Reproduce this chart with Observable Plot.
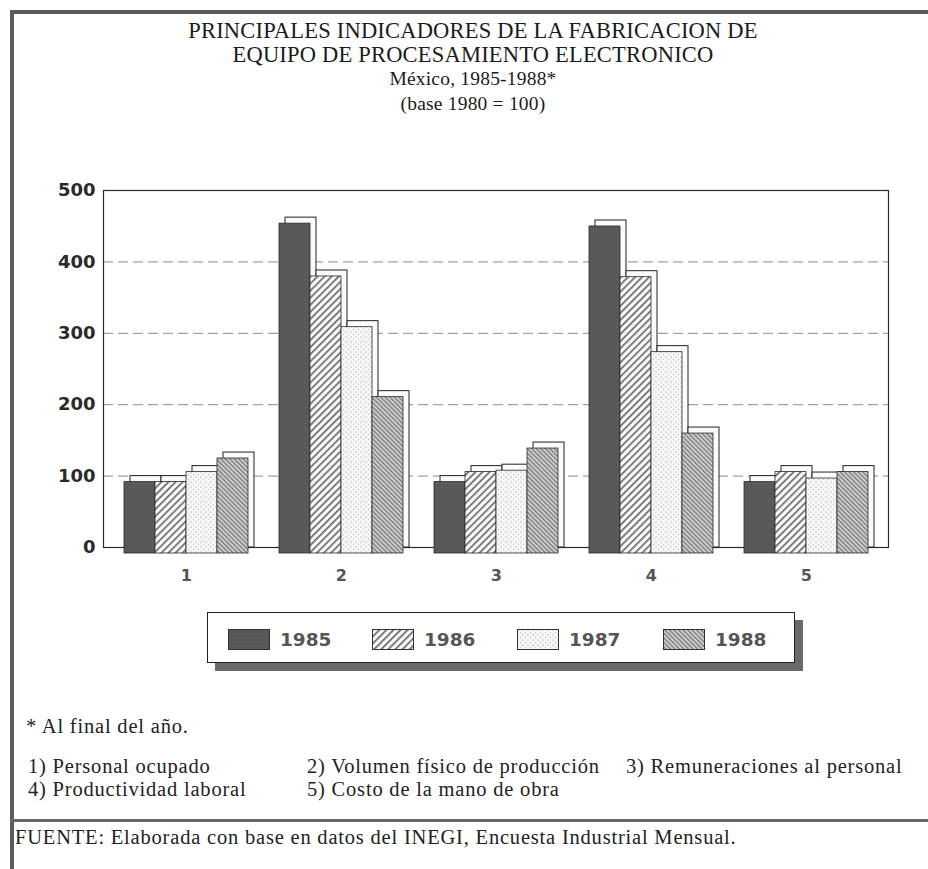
<!DOCTYPE html>
<html><head><meta charset="utf-8">
<script src="https://cdn.jsdelivr.net/npm/d3@7"></script>
<script src="https://cdn.jsdelivr.net/npm/@observablehq/plot@0.6"></script>
<style>
body{margin:0;background:#fff;}
#page{position:relative;width:928px;height:869px;overflow:hidden;background:#fff;}
.bt{position:absolute;left:10px;top:10px;width:918px;height:4px;background:#5c5c5c;}
.bl{position:absolute;left:10px;top:10px;width:4px;height:859px;background:#5c5c5c;}
.title{position:absolute;left:0;top:19px;width:946px;text-align:center;font-family:"Liberation Serif",serif;color:#1b1b1b;line-height:23.5px;font-size:22.5px;letter-spacing:0.2px;}
.title .s{font-size:19.5px;}
#chart{position:absolute;left:0;top:120px;}
.legend{position:absolute;left:207px;top:612px;width:586px;height:49px;border:1.5px solid #222;background:#fff;box-shadow:8px 8px 0 #6a6a6a;}
.item{position:absolute;top:16px;height:21px;font-family:"DejaVu Sans",sans-serif;font-weight:bold;font-size:18.5px;color:#555;line-height:21px;}
.item svg{position:absolute;left:0;top:0;}
.item span{position:absolute;left:52px;top:0;}
.fn{position:absolute;font-family:"Liberation Serif",serif;font-size:20.5px;line-height:21px;letter-spacing:0.8px;color:#222;white-space:nowrap;}
.sep{position:absolute;left:10px;top:819px;width:918px;height:3px;background:#666;}
</style></head>
<body>
<div id="page">
  <div class="bt"></div><div class="bl"></div>
  <div class="title">PRINCIPALES INDICADORES DE LA FABRICACION DE<br>EQUIPO DE PROCESAMIENTO ELECTRONICO<br><span class="s">México, 1985-1988*</span><br><span class="s">(base 1980 = 100)</span></div>
  <div id="chart"></div>
  <div class="legend" id="legend"></div>
  <div id="notes"></div>
  <div class="sep"></div>
</div>
<script>
const categories = ["1", "2", "3", "4", "5"];
const years = ["1985", "1986", "1987", "1988"];
const v1985 = [100, 462, 100, 458, 100];
const v1986 = [100, 388, 114, 387, 114];
const v1987 = [114, 317, 116, 282, 105];
const v1988 = [133, 219, 147, 168, 114];
const yTicks = [0, 100, 200, 300, 400, 500];
const gridValues = [100, 200, 300, 400];
const footnote = "* Al final del año.";
const descriptions = ["1) Personal ocupado", "2) Volumen físico de producción", "3) Remuneraciones al personal", "4) Productividad laboral", "5) Costo de la mano de obra"];
const source = "FUENTE: Elaborada con base en datos del INEGI, Encuesta Industrial Mensual.";

const series = {"1985": v1985, "1986": v1986, "1987": v1987, "1988": v1988};
const rows = [];
categories.forEach((c, i) => years.forEach(y => rows.push({cat: c, year: y, key: c + "-" + y, value: series[y][i]})));
const xDomain = categories.flatMap((c, i) => {
  const ks = years.map(y => c + "-" + y);
  return i < categories.length - 1 ? [...ks, "gap" + c] : ks;
});

const W = 928, ML = 103, MR = 40;
const step = (W - ML - MR) / (xDomain.length + 1);
const depth = 6;
const fills = {"1985": "url(#p1985)", "1986": "url(#p1986)", "1987": "url(#p1987)", "1988": "url(#p1988)"};

const marks = [
  Plot.ruleY(gridValues, {stroke: "#8a8a8a", strokeDasharray: "10,5", strokeWidth: 1}),
  Plot.frame({stroke: "#2a2a2a", strokeWidth: 1.2}),
  Plot.barY(rows, {x: "key", y: "value", dx: depth, fill: "#fbfbfb", stroke: "#222", strokeWidth: 1}),
  ...years.map(yr => Plot.barY(rows.filter(r => r.year === yr), {x: "key", y: "value", dy: depth, fill: fills[yr], stroke: "#2a2a2a", strokeWidth: 0.8})),
  Plot.text(categories, {x: d => d + "-1987", y: 0, dx: -step / 2, dy: 28, text: d => d, fontSize: 16, fill: "#555"})
];

const svg = Plot.plot({
  width: W, height: 480,
  marginLeft: ML, marginRight: MR, marginTop: 70, marginBottom: 53,
  style: {fontFamily: "DejaVu Sans, sans-serif", fontWeight: "bold", fontSize: "18px", color: "#2a2a2a", background: "transparent"},
  x: {type: "band", domain: xDomain, paddingInner: 0, paddingOuter: 0.5, axis: null},
  y: {domain: [0, 500], ticks: yTicks, tickFormat: d => d, tickSize: 0, tickPadding: 8, label: null},
  marks
});

const ns = "http://www.w3.org/2000/svg";
const defs = document.createElementNS(ns, "defs");
defs.innerHTML = `
<pattern id="p1985" width="4" height="4" patternUnits="userSpaceOnUse"><rect width="4" height="4" fill="#585858"/><rect x="1" y="1" width="1" height="1" fill="#646464"/></pattern>
<pattern id="p1986" width="5" height="5" patternUnits="userSpaceOnUse" patternTransform="rotate(45)"><rect width="5" height="5" fill="#fafafa"/><rect x="0" y="0" width="1.7" height="5" fill="#6a6a6a"/></pattern>
<pattern id="p1987" width="5" height="5" patternUnits="userSpaceOnUse"><rect width="5" height="5" fill="#f6f6f6"/><circle cx="1" cy="1" r="0.6" fill="#8a8a8a"/><circle cx="3.5" cy="3.5" r="0.5" fill="#aaa"/></pattern>
<pattern id="p1988" width="3.2" height="3.2" patternUnits="userSpaceOnUse" patternTransform="rotate(-45)"><rect width="3.2" height="3.2" fill="#cfcfcf"/><rect x="0" y="0" width="1.3" height="3.2" fill="#7a7a7a"/></pattern>`;
svg.insertBefore(defs, svg.firstChild);
document.getElementById("chart").appendChild(svg);

// legend
const legend = document.getElementById("legend");
const itemX = [20, 164, 309, 455];
years.forEach((yr, i) => {
  const d = document.createElement("div");
  d.className = "item";
  d.style.left = itemX[i] + "px";
  d.innerHTML = `<svg width="42" height="21"><rect x="0.5" y="0.5" width="41" height="20" fill="${fills[yr]}" stroke="#333" stroke-width="1"/></svg><span>${yr}</span>`;
  legend.appendChild(d);
});

// notes
const notes = document.getElementById("notes");
function note(text, left, top) {
  const d = document.createElement("div");
  d.className = "fn";
  d.style.left = left + "px";
  d.style.top = top + "px";
  d.textContent = text;
  notes.appendChild(d);
}
note(footnote, 26, 716);
const colX = [28, 307, 626];
descriptions.forEach((t, i) => note(t, colX[i % 3], 756 + Math.floor(i / 3) * 23));
note(source, 15, 827);
</script>
</body></html>
